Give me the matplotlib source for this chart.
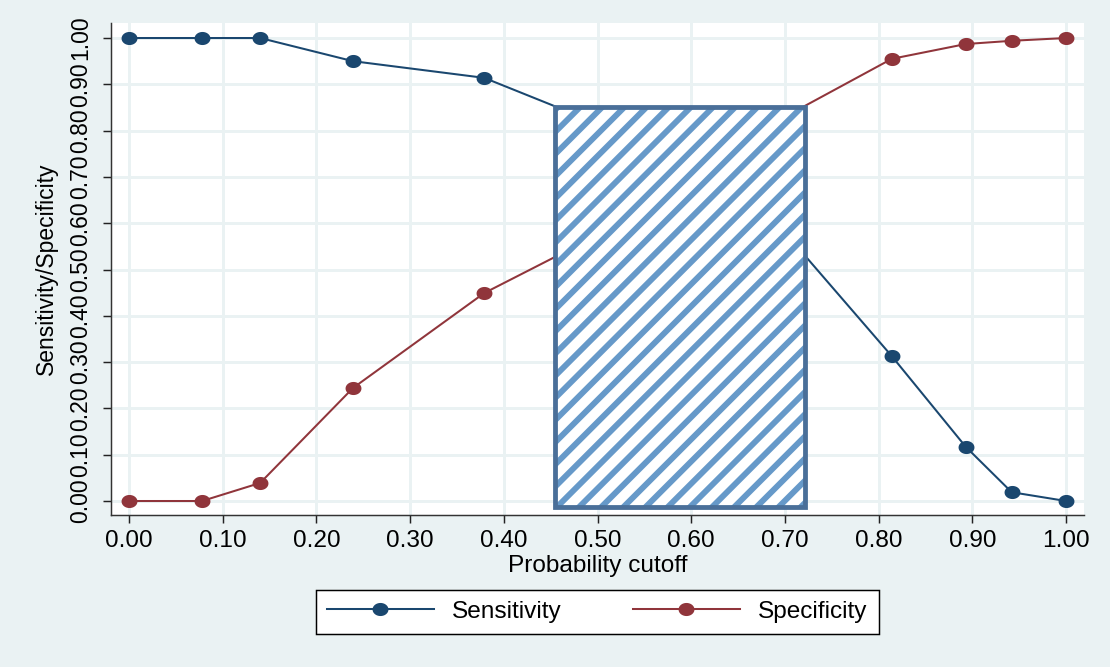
import numpy as np
import matplotlib
matplotlib.use("Agg")
import matplotlib.pyplot as plt
from matplotlib.path import Path
from matplotlib.patches import Rectangle

# values (points under the box are estimates)
cutoff = [0.0, 0.078, 0.14, 0.239, 0.379, 0.47, 0.60, 0.70, 0.814, 0.893, 0.942, 1.0]
sensitivity = [1.0, 1.0, 1.0, 0.950, 0.914, 0.84, 0.72, 0.58, 0.313, 0.117, 0.019, 0.0]
specificity = [0.0, 0.0, 0.039, 0.244, 0.449, 0.543, 0.70, 0.83, 0.955, 0.987, 0.994, 1.0]

# shaded cutoff band
band_x = [0.455, 0.721]
band_y = [-0.013, 0.851]

ticks = [0.0, 0.1, 0.2, 0.3, 0.4, 0.5, 0.6, 0.7, 0.8, 0.9, 1.0]

plt.rcParams['font.family'] = ['Liberation Sans', 'DejaVu Sans']
plt.rcParams['hatch.linewidth'] = 3.2

DPI = 133
bg = '#eaf2f3'
navy = '#1a476f'
maroon = '#90353b'
fs_v = 12.4   # rotated text
fs_h = 13.2   # horizontal text (reference is a bit stretched sideways)

# slightly wide ellipse marker (the reference is stretched horizontally)
t = np.linspace(0, 2 * np.pi, 60)
ellipse = Path(np.column_stack([1.25 * np.cos(t), np.sin(t)]), closed=True)

fig = plt.figure(figsize=(1110 / DPI, 667 / DPI), dpi=DPI, facecolor=bg)
ax = fig.add_axes([0.1, 0.2279, 0.8766, 0.7376])
ax.set_facecolor('white')

ax.plot(cutoff, sensitivity, color=navy, lw=1.1, marker=ellipse, ms=7.6,
        label='Sensitivity', zorder=3)
ax.plot(cutoff, specificity, color=maroon, lw=1.1, marker=ellipse, ms=7.6,
        label='Specificity', zorder=3)

# hatched band: hatch layer + outline layer
ax.add_patch(Rectangle((band_x[0], band_y[0]), band_x[1] - band_x[0], band_y[1] - band_y[0],
                       facecolor='white', edgecolor='#6699c9', hatch='//', lw=0, zorder=4))
ax.add_patch(Rectangle((band_x[0], band_y[0]), band_x[1] - band_x[0], band_y[1] - band_y[0],
                       facecolor='none', edgecolor='#4a6f99', lw=2.6, zorder=5))

ax.set_xlim(-0.0192, 1.0192)
ax.set_ylim(-0.0302, 1.0324)
ax.set_xticks(ticks)
ax.set_yticks(ticks)
ax.set_xticklabels(['%.2f' % v for v in ticks], fontsize=fs_h)
ax.set_yticklabels(['%.2f' % v for v in ticks], rotation=90, va='center', fontsize=fs_v)
ax.tick_params(axis='both', length=4.5, width=0.8, colors='#222222', labelcolor='black')
ax.tick_params(axis='x', pad=3.6)
ax.tick_params(axis='y', pad=5.5)

ax.grid(True, color=bg, lw=1.6, zorder=0)
ax.set_axisbelow(True)
for side in ['top', 'right']:
    ax.spines[side].set_visible(False)
for side in ['left', 'bottom']:
    ax.spines[side].set_color('#333333')
    ax.spines[side].set_linewidth(0.8)

ax.set_xlabel('Probability cutoff', fontsize=fs_h, labelpad=1.5)
ax.set_ylabel('Sensitivity/Specificity', fontsize=fs_v, labelpad=6.5)

leg = fig.legend(loc='center', bbox_to_anchor=(0.538, 0.0825), ncol=2, fontsize=fs_h,
                 frameon=True, fancybox=False, edgecolor='black', framealpha=1,
                 handlelength=4.4, handletextpad=0.75, columnspacing=2.9,
                 borderpad=0.45, borderaxespad=0)
leg.get_frame().set_linewidth(0.8)

fig.savefig('out.png', dpi=DPI, facecolor=bg)
